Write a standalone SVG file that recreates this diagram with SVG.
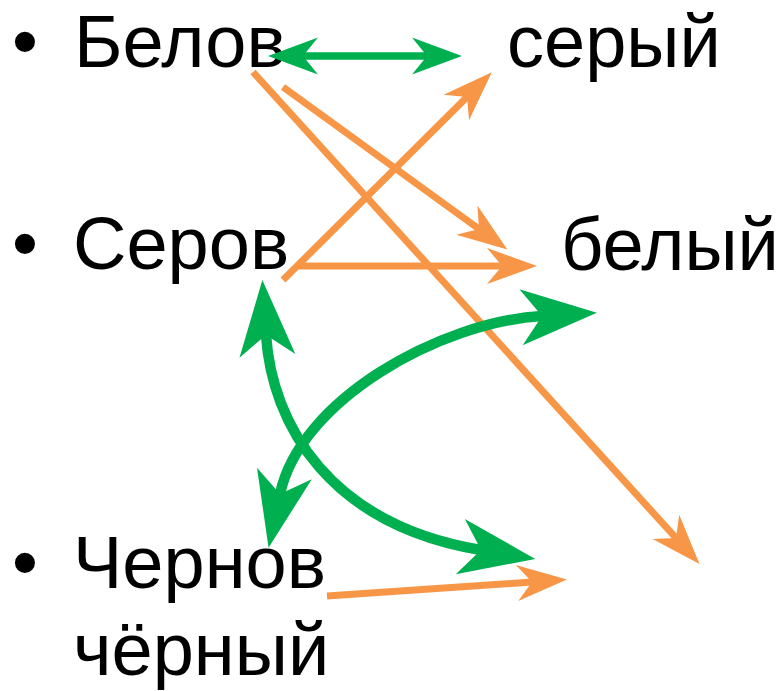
<svg xmlns="http://www.w3.org/2000/svg" width="783" height="691" viewBox="0 0 783 691">
<style>
text{font-family:"Liberation Sans",Arial,sans-serif;font-size:74px;fill:#000}
.o{fill:none;stroke:#F79646;stroke-width:7}
.g{fill:none;stroke:#00B050;stroke-width:7.5}
.gc{fill:none;stroke:#00B050;stroke-width:10.5}
</style>
<defs>
<marker id="ao" markerUnits="userSpaceOnUse" viewBox="-20 -25 60 50" markerWidth="60" markerHeight="50" refX="0" refY="0" orient="auto" overflow="visible"><path d="M35,0 L-15,-18 L0,0 L-15,18 Z" fill="#F79646"/></marker>
<marker id="ag" markerUnits="userSpaceOnUse" viewBox="-20 -25 60 50" markerWidth="60" markerHeight="50" refX="0" refY="0" orient="auto-start-reverse" overflow="visible"><path d="M35,0 L-15,-18.5 L0,0 L-15,18.5 Z" fill="#00B050"/></marker>
<marker id="agc" markerUnits="userSpaceOnUse" viewBox="-25 -30 85 60" markerWidth="85" markerHeight="60" refX="0" refY="0" orient="auto-start-reverse" overflow="visible"><path d="M55,0 L-21,-28 L0,0 L-21,28 Z" fill="#00B050"/></marker>
</defs>
<g id="n-belov"><text x="12" y="67">•</text><text x="74" y="67">Белов</text></g>
<g id="n-seryj"><text x="507" y="67">серый</text></g>
<g id="n-serov"><text x="12" y="269">•</text><text x="73" y="269">Серов</text></g>
<g id="n-belyj"><text x="561" y="270">белый</text></g>
<g id="n-chernov"><text x="12" y="588">•</text><text x="73" y="588">Чернов</text></g>
<g id="n-chernyj"><text x="73" y="675">чёрный</text></g>
<g id="connectors">
<path class="o" d="M253,72 L676,538" marker-end="url(#ao)"/>
<path class="o" d="M283,87 L479,229" marker-end="url(#ao)"/>
<path class="o" d="M283,280 L467,97" marker-end="url(#ao)"/>
<path class="o" d="M298,266 L502,266" marker-end="url(#ao)"/>
<path class="o" d="M327,596 L532,582" marker-end="url(#ao)"/>
<path class="g" d="M303,56 L427,56" marker-start="url(#ag)" marker-end="url(#ag)"/>
<path class="gc" d="M266,335 C272,425 330,525 481,550" marker-start="url(#agc)" marker-end="url(#agc)"/>
<path class="gc" d="M542,316 C440,322 300,400 280,494" marker-start="url(#agc)" marker-end="url(#agc)"/>
</g>
</svg>
